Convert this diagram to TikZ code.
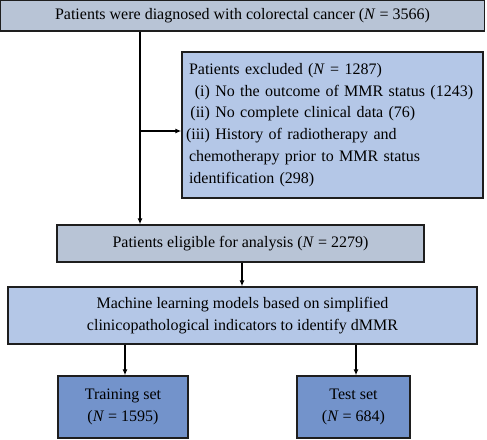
\documentclass[tikz,border=0pt]{standalone}
\usepackage{fontspec}
\setmainfont{Liberation Serif}
\usepackage{tikz}
\usepackage{xcolor}
\usetikzlibrary{arrows.meta, positioning, calc}
\definecolor{greycolor}{RGB}{184,196,214}
\definecolor{lightcolor}{RGB}{180,199,231}
\definecolor{setcolor}{RGB}{115,147,203}
\definecolor{edgecolor}{RGB}{30,30,30}
\tikzstyle{greybox} = [rectangle, draw=edgecolor, line width=1.4pt, fill=greycolor, inner sep=0pt]
\tikzstyle{lightbox} = [rectangle, draw=edgecolor, line width=1.4pt, fill=lightcolor, inner sep=0pt]
\tikzstyle{setbox} = [rectangle, draw=edgecolor, line width=1.4pt, fill=setcolor, inner sep=0pt, align=center]
\tikzstyle{arrow} = [-{Latex[length=6pt, width=5pt]}, line width=1.3pt]
\tikzstyle{line} = [line width=1.3pt]
\newcommand{\nn}{\textit{N}}
\newcommand{\lbl}[1]{\makebox[21pt][r]{#1}}

\begin{document}
\begin{tikzpicture}[x=1pt, y=1pt, font=\fontsize{16}{21.7}\selectfont]
    \useasboundingbox (0,0) rectangle (487,-439);

    % screening
    \node[greybox, minimum width=484pt, minimum height=31pt] (diag) at (242.5,-15.5)
        {Patients were diagnosed with colorectal cancer (\nn{} = 3566)};
    \node[lightbox, minimum width=301pt, minimum height=146pt, align=left, text width=287pt] (excl) at (332.5,-125)
        {Patients excluded (\nn{} = 1287)\\
         \lbl{(i)} No the outcome of MMR status (1243)\\
         \lbl{(ii)} No complete clinical data (76)\\
         \lbl{(iii)} History of radiotherapy and\\
         chemotherapy prior to MMR status\\
         identification (298)};
    \node[greybox, minimum width=367pt, minimum height=37pt] (elig) at (240.5,-243.5)
        {Patients eligible for analysis (\nn{} = 2279)};

    % modelling
    \node[lightbox, minimum width=469pt, minimum height=57pt, align=center] (model) at (242.5,-315.5)
        {Machine learning models based on simplified\\clinicopathological indicators to identify dMMR};
    \node[setbox, minimum width=130pt, minimum height=62pt] (train) at (123,-407)
        {Training set\\(\nn{} = 1595)};
    \node[setbox, minimum width=113pt, minimum height=62pt] (test) at (353.5,-407)
        {Test set\\(\nn{} = 684)};

    \coordinate (split) at (140,-131);

    \draw[line] (split |- diag.south) -- (split);
    \draw[arrow] (split) -- (split -| excl.west);
    \draw[arrow] (split) -- (split |- elig.north);
    \draw[arrow] (elig.south -| 242,0) -- (model.north -| 242,0);
    \draw[arrow] ([xshift=2pt]model.south -| train) -- ([xshift=2pt]train.north);
    \draw[arrow] ([xshift=2.5pt]model.south -| test) -- ([xshift=2.5pt]test.north);

\end{tikzpicture}
\end{document}
